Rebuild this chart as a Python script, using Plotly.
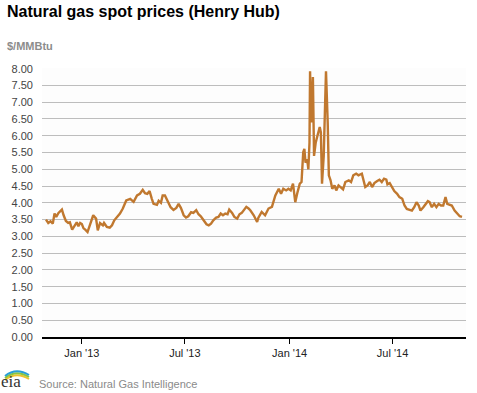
import plotly.graph_objects as go

# Henry Hub natural gas spot price ($/MMBtu)
dates = [
    "2012-10-30", "2012-11-03", "2012-11-07", "2012-11-11", "2012-11-14", "2012-11-17",
    "2012-11-21", "2012-11-27", "2012-11-30", "2012-12-04", "2012-12-08", "2012-12-11",
    "2012-12-15", "2012-12-20", "2012-12-23", "2012-12-26", "2012-12-29", "2013-01-01",
    "2013-01-04", "2013-01-07", "2013-01-11", "2013-01-16", "2013-01-21", "2013-01-26",
    "2013-01-29", "2013-02-02", "2013-02-07", "2013-02-09", "2013-02-14", "2013-02-19",
    "2013-02-23", "2013-02-27", "2013-03-05", "2013-03-09", "2013-03-14", "2013-03-18",
    "2013-03-20", "2013-03-27", "2013-04-02", "2013-04-08", "2013-04-13", "2013-04-18",
    "2013-04-22", "2013-04-26", "2013-04-30", "2013-05-04", "2013-05-07", "2013-05-13",
    "2013-05-16", "2013-05-20", "2013-05-23", "2013-05-27", "2013-06-02", "2013-06-06",
    "2013-06-11", "2013-06-16", "2013-06-20", "2013-06-24", "2013-06-29", "2013-07-03",
    "2013-07-07", "2013-07-12", "2013-07-16", "2013-07-21", "2013-07-25", "2013-07-29",
    "2013-08-03", "2013-08-08", "2013-08-12", "2013-08-16", "2013-08-20", "2013-08-25",
    "2013-08-29", "2013-09-02", "2013-09-06", "2013-09-10", "2013-09-14", "2013-09-17",
    "2013-09-22", "2013-09-26", "2013-10-01", "2013-10-05", "2013-10-09", "2013-10-13",
    "2013-10-17", "2013-10-21", "2013-10-24", "2013-10-30", "2013-11-05", "2013-11-07",
    "2013-11-13", "2013-11-19", "2013-11-25", "2013-12-01", "2013-12-07", "2013-12-13",
    "2013-12-17", "2013-12-21", "2013-12-26", "2013-12-30", "2014-01-03", "2014-01-07",
    "2014-01-11", "2014-01-15", "2014-01-19", "2014-01-22", "2014-01-25", "2014-01-27",
    "2014-01-29", "2014-02-01", "2014-02-03", "2014-02-05", "2014-02-06", "2014-02-08",
    "2014-02-09", "2014-02-11", "2014-02-13", "2014-02-16", "2014-02-19", "2014-02-23",
    "2014-02-25", "2014-02-27", "2014-03-02", "2014-03-05", "2014-03-06", "2014-03-09",
    "2014-03-11", "2014-03-14", "2014-03-17", "2014-03-21", "2014-03-24", "2014-03-28",
    "2014-04-01", "2014-04-05", "2014-04-09", "2014-04-15", "2014-04-19", "2014-04-23",
    "2014-04-28", "2014-05-02", "2014-05-08", "2014-05-11", "2014-05-14", "2014-05-18",
    "2014-05-22", "2014-05-26", "2014-05-30", "2014-06-04", "2014-06-08", "2014-06-12",
    "2014-06-16", "2014-06-20", "2014-06-22", "2014-06-26", "2014-06-30", "2014-07-04",
    "2014-07-09", "2014-07-13", "2014-07-18", "2014-07-22", "2014-07-26", "2014-07-31",
    "2014-08-04", "2014-08-08", "2014-08-12", "2014-08-16", "2014-08-19", "2014-08-24",
    "2014-08-28", "2014-09-01", "2014-09-04", "2014-09-08", "2014-09-12", "2014-09-16",
    "2014-09-20", "2014-09-24", "2014-09-28", "2014-10-02", "2014-10-05", "2014-10-09",
    "2014-10-13", "2014-10-18", "2014-10-22", "2014-10-27", "2014-10-31",
]
prices = [
    3.50, 3.40, 3.45, 3.38, 3.68, 3.58,
    3.70, 3.80, 3.63, 3.46, 3.40, 3.42,
    3.20, 3.33, 3.42, 3.30, 3.40, 3.37,
    3.24, 3.20, 3.13, 3.38, 3.63, 3.53,
    3.18, 3.40, 3.33, 3.40, 3.28, 3.26,
    3.33, 3.48, 3.60, 3.68, 3.83, 3.99,
    4.07, 4.12, 4.03, 4.22, 4.27, 4.39,
    4.29, 4.27, 4.35, 4.12, 3.97, 3.94,
    4.06, 4.00, 4.22, 4.22, 4.02, 3.87,
    3.79, 3.85, 3.97, 3.85, 3.63, 3.56,
    3.60, 3.72, 3.70, 3.78, 3.66, 3.60,
    3.48, 3.36, 3.33, 3.38, 3.48, 3.56,
    3.58, 3.68, 3.63, 3.68, 3.66, 3.80,
    3.70, 3.58, 3.53, 3.66, 3.70, 3.78,
    3.88, 3.83, 3.78, 3.63, 3.43, 3.55,
    3.73, 3.63, 3.83, 3.88, 4.22, 4.42,
    4.27, 4.42, 4.37, 4.42, 4.37, 4.57,
    4.02, 4.32, 4.57, 4.62, 5.51, 5.61,
    5.20, 5.30, 5.00, 5.80, 7.92, 6.40,
    7.20, 7.75, 5.40, 5.80, 6.00, 6.26,
    6.10, 4.57, 5.40, 7.40, 7.92, 6.40,
    4.82, 4.67, 4.42, 4.52, 4.37, 4.52,
    4.47, 4.40, 4.62, 4.67, 4.62, 4.82,
    4.87, 4.82, 4.87, 4.67, 4.47, 4.52,
    4.62, 4.47, 4.59, 4.65, 4.69, 4.62,
    4.72, 4.69, 4.55, 4.59, 4.47, 4.35,
    4.27, 4.17, 4.12, 3.92, 3.82, 3.79,
    3.77, 3.87, 4.02, 3.92, 3.77, 3.87,
    3.97, 4.05, 4.02, 3.87, 3.97, 3.87,
    3.97, 3.92, 3.92, 4.17, 3.97, 3.95,
    3.92, 3.77, 3.69, 3.60, 3.58,
]

tick_dates = ["2013-01-01", "2013-07-01", "2014-01-01", "2014-07-01"]
tick_labels = ["Jan '13", "Jul '13", "Jan '14", "Jul '14"]

title_text = "Natural gas spot prices (Henry Hub)"
unit_text = "&#36;/MMBtu"
source_text = "Source: Natural Gas Intelligence"

W, H = 477, 393
ML, MR, MT, MB = 42, 11, 68, 56
pw = W - ML - MR
ph = H - MT - MB
font_family = "Liberation Sans, Arial, sans-serif"


def px(x, y):
    """pixel (from top-left) -> paper coordinates"""
    return (x - ML) / pw, (H - MB - y) / ph


fig = go.Figure()
fig.add_trace(go.Scatter(
    x=dates, y=prices, mode="lines",
    line=dict(color="#c0782f", width=2.4),
    hoverinfo="x+y", showlegend=False,
))

annos = []
tx, ty = px(5, 1)
annos.append(dict(text="<b>" + title_text + "</b>", xref="paper", yref="paper",
                  x=tx, y=ty, xanchor="left", yanchor="top", showarrow=False,
                  font=dict(size=16, color="#000000", family=font_family)))
ux, uy = px(5, 38)
annos.append(dict(text="<b>" + unit_text + "</b>", xref="paper", yref="paper",
                  x=ux, y=uy, xanchor="left", yanchor="top", showarrow=False,
                  font=dict(size=11, color="#8c8c8c", family=font_family)))
sx, sy = px(37, 376)
annos.append(dict(text=source_text, xref="paper", yref="paper",
                  x=sx, y=sy, xanchor="left", yanchor="top", showarrow=False,
                  font=dict(size=11, color="#8a8a8a", family=font_family)))
ex, ey = px(-1, 393)
annos.append(dict(text="eia", xref="paper", yref="paper",
                  x=ex, y=ey, xanchor="left", yanchor="bottom", showarrow=False,
                  font=dict(size=17, color="#333333", family="Liberation Serif, serif")))

shapes = []
for col, yy in [("#f2c12e", 375), ("#8dc63f", 373), ("#2a9fd6", 371)]:
    x0, y0 = px(5, yy + 5)
    xm, ym = px(16, yy - 4)
    x1, y1 = px(29, yy + 4)
    shapes.append(dict(type="path", xref="paper", yref="paper",
                       path=f"M {x0},{y0} Q {xm},{ym} {x1},{y1}",
                       line=dict(color=col, width=2)))

fig.update_layout(
    width=W, height=H,
    margin=dict(l=ML, r=MR, t=MT, b=MB, autoexpand=False),
    paper_bgcolor="white",
    plot_bgcolor="#fdfdfd",
    font=dict(family=font_family, size=11, color="#333333"),
    xaxis=dict(
        type="date",
        range=["2012-10-23", "2014-11-07"],
        tickmode="array", tickvals=tick_dates, ticktext=tick_labels,
        showgrid=False, zeroline=False,
        showline=True, linecolor="#000000", linewidth=1.5,
        ticks="outside", ticklen=5, tickcolor="#000000", tickwidth=1,
        tickfont=dict(size=11, color="#222222"),
        automargin=False,
    ),
    yaxis=dict(
        range=[0, 8.02], dtick=0.5, tick0=0, tickformat=".2f",
        showgrid=True, gridcolor="#bdbdbd", gridwidth=1,
        zeroline=False, showline=False, ticks="",
        ticklabelstandoff=8,
        tickfont=dict(size=11, color="#444444"),
        automargin=False,
    ),
    annotations=annos,
    shapes=shapes,
)

fig.write_html(
    "out.html",
    config={"displayModeBar": False},
    post_script="document.body.style.margin='0';document.body.style.overflow='hidden';",
)
